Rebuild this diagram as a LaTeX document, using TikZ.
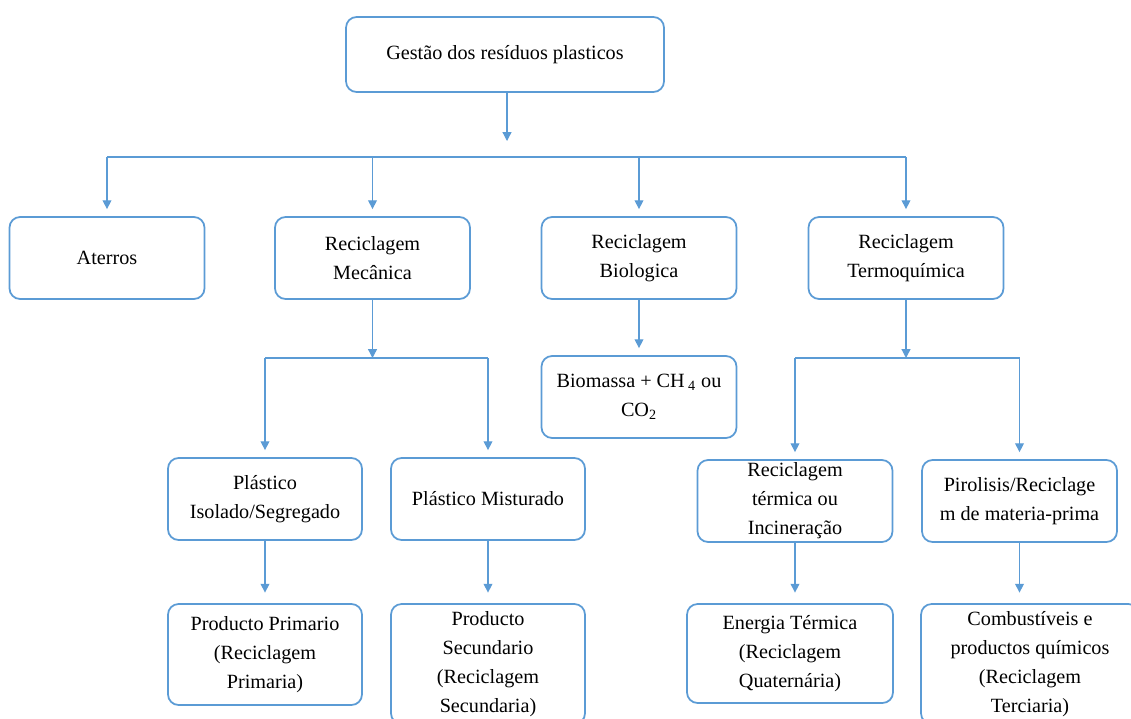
\documentclass[tikz,border=0pt]{standalone}
\usepackage{fontspec}
\setmainfont{Liberation Serif}
\usetikzlibrary{positioning, arrows.meta, calc}
\definecolor{linkblue}{HTML}{5B9BD5}

\begin{document}
\begin{tikzpicture}[
    x=0.02cm, y=-0.02cm,
    box/.style={draw=linkblue, line width=1pt, fill=white, minimum width=3.9cm, minimum height=1.64cm, align=center, font=\fontsize{11.5}{16.5}\selectfont, rounded corners=6pt, inner sep=1pt},
    arrow/.style={-{Triangle[width=5pt, length=5pt]}, draw=linkblue, line width=0.7pt, shorten >=4pt},
    bus/.style={draw=linkblue, line width=0.7pt}
]
    \clip (0,0) rectangle (1131,718);

    % ================= ROOT =================
    \node[box, minimum width=6.36cm, minimum height=1.5cm] (Gestao) at (505,54.5) {Gestão dos resíduos plasticos};

    % ================= FIRST LEVEL: DESTINATIONS =================
    \node[box] (Aterros) at (107,258) {Aterros};
    \node[box] (Mecanica) at (372.5,258) {Reciclagem\\Mecânica};
    \node[box] (Biologica) at (639,258) {Reciclagem\\Biologica};
    \node[box] (Termo) at (906,258) {Reciclagem\\Termoquímica};

    % ================= SECOND LEVEL: PROCESSES =================
    \node[box, minimum width=3.88cm] (Isolado) at (265,499) {Plástico\\Isolado/Segregado};
    \node[box, minimum width=3.88cm] (Misturado) at (488,499) {Plástico Misturado};
    \node[box] (Biomassa) at (639,397) {Biomassa + CH\,\textsubscript{4} ou\\CO\textsubscript{2}};
    \node[box] (Termica) at (795,501) {Reciclagem\\térmica ou\\Incineração};
    \node[box] (Pirolisis) at (1019.5,501) {Pirolisis/Reciclage\\m de materia-prima};

    % ================= PRODUCTS =================
    \node[box, minimum width=3.88cm, minimum height=2.02cm] (Primario) at (265,654.5) {Producto Primario\\(Reciclagem\\Primaria)};
    \node[box, minimum width=3.88cm, minimum height=2.4cm] (Secundario) at (488,664) {Producto\\Secundario\\(Reciclagem\\Secundaria)};
    \node[box, minimum width=4.12cm, minimum height=1.98cm] (Energia) at (790,653.5) {Energia Térmica\\(Reciclagem\\Quaternária)};
    \node[box, minimum width=4.36cm, minimum height=2.4cm] (Combustiveis) at (1030,664) {Combustíveis e\\productos químicos\\(Reciclagem\\Terciaria)};

    % ================= DRAW CONNECTIONS =================

    % Root split
    \coordinate (RootSplit) at ($(Gestao.south |- 0,157)+(2,0)$);
    \draw[arrow, shorten >=0.32cm] ($(Gestao.south)+(2,0)$) -- (RootSplit);
    \draw[bus] (Aterros.north |- RootSplit) -- (Termo.north |- RootSplit);
    \foreach \n in {Aterros, Mecanica, Biologica, Termo}
        \draw[arrow] (\n.north |- RootSplit) -- (\n.north);

    % Mechanical split
    \coordinate (MecSplit) at (Mecanica.south |- 0,358);
    \draw[arrow, shorten >=0pt] (Mecanica.south) -- (MecSplit);
    \draw[bus] (Isolado.north |- MecSplit) -- (Misturado.north |- MecSplit);
    \foreach \n in {Isolado, Misturado}
        \draw[arrow] (\n.north |- MecSplit) -- (\n.north);

    % Biological
    \draw[arrow] (Biologica.south) -- (Biomassa.north);

    % Thermochemical split
    \coordinate (TermoSplit) at (Termo.south |- 0,358);
    \draw[arrow, shorten >=0pt] (Termo.south) -- (TermoSplit);
    \draw[bus] (Termica.north |- TermoSplit) -- (Pirolisis.north |- TermoSplit);
    \foreach \n in {Termica, Pirolisis}
        \draw[arrow] (\n.north |- TermoSplit) -- (\n.north);

    % Products
    \foreach \a/\b in {Isolado/Primario, Misturado/Secundario, Termica/Energia, Pirolisis/Combustiveis}
        \draw[arrow, shorten >=6pt] (\a.south) -- (\a.south |- \b.north);

\end{tikzpicture}
\end{document}
